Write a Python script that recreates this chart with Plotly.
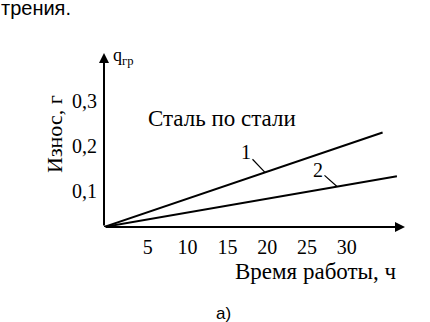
import plotly.graph_objects as go

W, H = 430, 322

# data
line1_x = [0, 35]
line1_y = [0, 0.21]
line2_x = [0, 36.8]
line2_y = [0, 0.113]
x_ticks = [5, 10, 15, 20, 25, 30]
x_ticklabels = ["5", "10", "15", "20", "25", "30"]
y_ticks = [0.1, 0.2, 0.3]
y_ticklabels = ["0,1", "0,2", "0,3"]

# pixel geometry of plot area
X0, X1 = 104, 405
Y0, Y1 = 227, 53
XMAX = (X1 - X0) / 7.96
YMAX = (Y0 - Y1) / 450.0

SERIF = "Liberation Serif"

fig = go.Figure()
for xs, ys in [(line1_x, line1_y), (line2_x, line2_y)]:
    fig.add_trace(go.Scatter(x=xs, y=ys, mode="lines",
                             line=dict(color="black", width=2),
                             showlegend=False, hoverinfo="skip"))

fig.update_layout(
    width=W, height=H,
    margin=dict(l=0, r=0, t=0, b=0),
    paper_bgcolor="white", plot_bgcolor="white",
    xaxis=dict(domain=[X0 / W, X1 / W], range=[0, XMAX], showgrid=False,
               zeroline=False, showline=False, tickvals=x_ticks,
               ticktext=x_ticklabels, ticks="", ticklabelshift=4,
               ticklabelstandoff=6,
               tickfont=dict(family=SERIF, size=20, color="black")),
    yaxis=dict(domain=[1 - Y0 / H, 1 - Y1 / H], range=[0, YMAX], showgrid=False,
               zeroline=False, showline=False, tickvals=y_ticks,
               ticktext=y_ticklabels, ticks="", ticklabelshift=9,
               ticklabelstandoff=6,
               tickfont=dict(family=SERIF, size=20, color="black")),
)

def px(x):
    return x / W

def py(y):
    return 1 - y / H

ann = []
# axes with arrows
ann.append(dict(x=XMAX, y=0, ax=0, ay=0, xref="x", yref="y", axref="x", ayref="y",
                text="", showarrow=True, arrowhead=2, arrowsize=1, arrowwidth=2,
                arrowcolor="black"))
ann.append(dict(x=0, y=YMAX, ax=0, ay=0, xref="x", yref="y", axref="x", ayref="y",
                text="", showarrow=True, arrowhead=2, arrowsize=1, arrowwidth=2,
                arrowcolor="black"))

def on_line(xs, ys, x):
    return ys[-1] / xs[-1] * x

t1x = (265 - X0) / 7.96
ann.append(dict(x=t1x, y=on_line(line1_x, line1_y, t1x), xref="x", yref="y",
                text="1", showarrow=True, arrowhead=0, arrowwidth=1.2,
                arrowcolor="black", ax=-19, ay=-20,
                font=dict(family=SERIF, size=20, color="black")))
t2x = (337 - X0) / 7.96
ann.append(dict(x=t2x, y=on_line(line2_x, line2_y, t2x), xref="x", yref="y",
                text="2", showarrow=True, arrowhead=0, arrowwidth=1.2,
                arrowcolor="black", ax=-19, ay=-17,
                font=dict(family=SERIF, size=20, color="black")))

def txt(x, y, text, size, family=SERIF, angle=0):
    return dict(x=px(x), y=py(y), xref="paper", yref="paper",
                xanchor="center", yanchor="middle", text=text,
                textangle=angle, showarrow=False,
                font=dict(family=family, size=size, color="black"))

ann.append(txt(222, 118, "Сталь по стали", 23))
ann.append(txt(54, 134, "Износ, г", 22, angle=-90))
ann.append(txt(316, 271, "Время работы, ч", 23))
ann.append(txt(123, 56, "q<sub>гр</sub>", 18))
ann.append(txt(36, 8, "трения.", 20, family="Liberation Sans"))
ann.append(txt(223, 313, "а)", 17, family="Liberation Sans"))
fig.update_layout(annotations=ann)

fig.write_html("out.html", post_script="document.body.style.margin='0';",
               config={"displayModeBar": False})
